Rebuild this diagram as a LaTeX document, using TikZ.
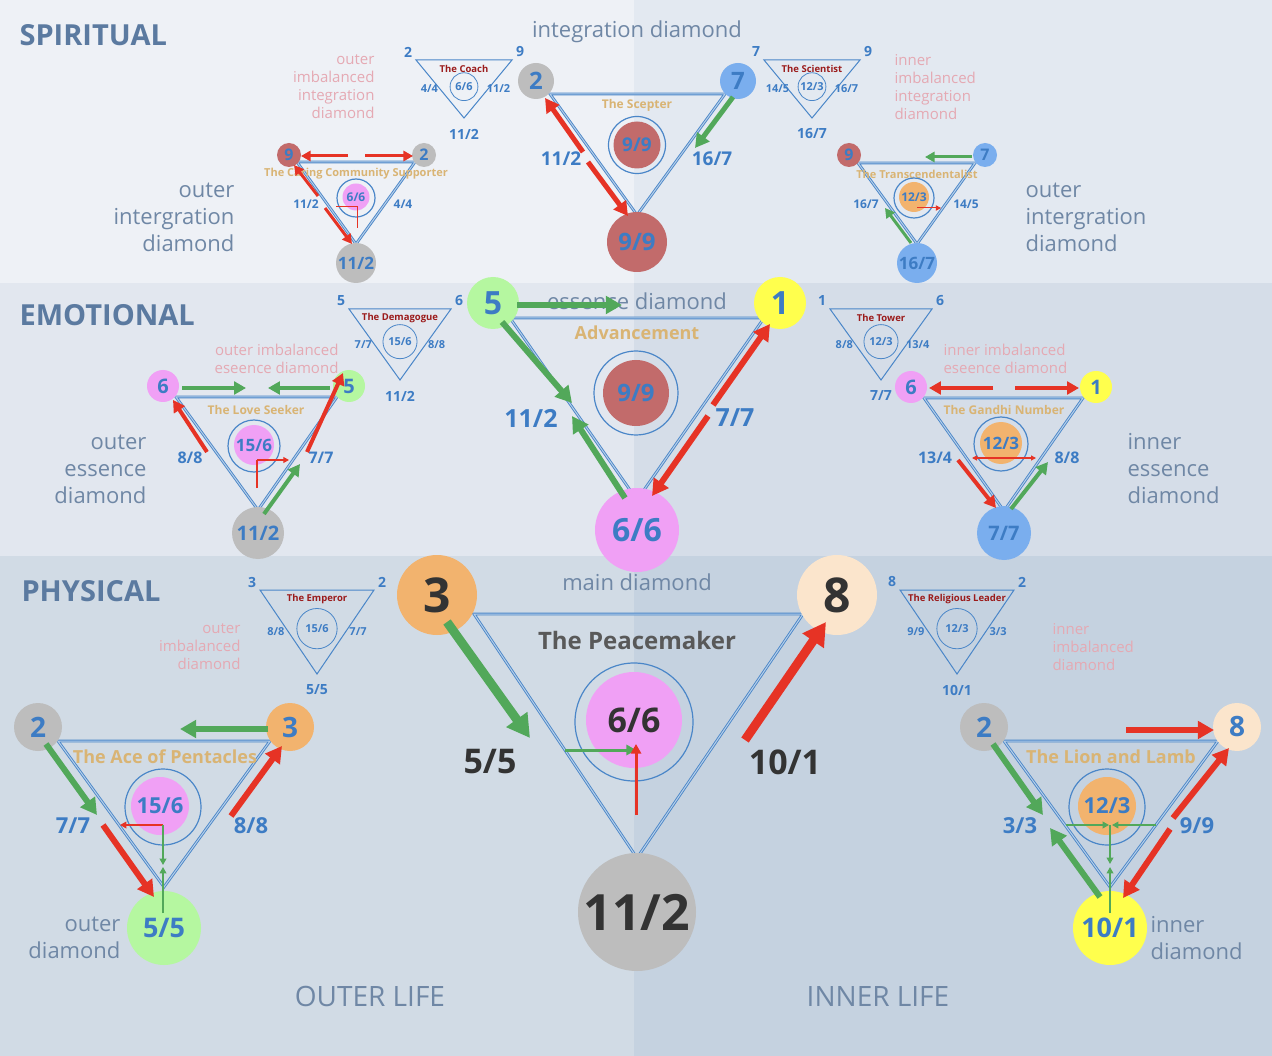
\documentclass[tikz,border=0pt]{standalone}
\usepackage{fontspec}
\setmainfont{Open Sans}
\usetikzlibrary{arrows.meta}
\definecolor{numblue}{HTML}{3D7CC4}
\definecolor{lineblue}{HTML}{4A86C8}
\definecolor{cgray}{HTML}{BDBDBD}
\definecolor{cblue}{HTML}{7AAEEE}
\definecolor{crose}{HTML}{C26B6B}
\definecolor{cpink}{HTML}{F0A0F5}
\definecolor{cgreen}{HTML}{B5F7A0}
\definecolor{cyellow}{HTML}{FFFF4D}
\definecolor{corange}{HTML}{F2B36E}
\definecolor{cpeach}{HTML}{FBE5CC}
\definecolor{arrred}{HTML}{E63325}
\definecolor{arrgreen}{HTML}{52A85A}
\definecolor{tan}{HTML}{D9B474}
\definecolor{darkred}{HTML}{9B1B1B}
\definecolor{pinklbl}{HTML}{E5A9B3}
\definecolor{graytxt}{HTML}{6F87A5}
\definecolor{headtxt}{HTML}{5B7AA0}
\newcommand\fs[2]{\fontsize{#1}{#2}\selectfont}
% small imbalanced triangle: prefix, top centre, corners, sides, bottom
\newcommand\smalltri[9]{%
  \begin{scope}[shift={(#2)}]
    \draw[draw=lineblue, line width=1pt] (-\hw,0) -- (\hw,0) -- (0,\th) -- cycle;
    \node[snum, font=\bfseries\fs{14}{16}] (#1tl) at (-\hw-8,-8) {#3};
    \node[snum, font=\bfseries\fs{14}{16}] (#1tr) at (\hw+8,-8) {#4};
    \node[snum] (#1l) at (-0.72*\hw,0.5*\th) {#5};
    \node[snum] (#1r) at (0.72*\hw,0.5*\th) {#6};
    \node[snum, font=\bfseries\fs{14}{16}] (#1b) at (0,\th+16) {#7};
    \node[font=\bfseries\fs{9.5}{11}, text=darkred] (#1n) at (0,9) {#8};
    \node[circle, draw=lineblue, line width=0.8pt, minimum size=0.48*\th,
      inner sep=0pt, text=numblue, font=\bfseries\fs{11}{13}] (#1c) at (0,0.46*\th) {#9};
  \end{scope}}
\begin{document}
\begin{tikzpicture}[x=1pt, y=-1pt,
  snum/.style={text=numblue, font=\bfseries\fs{11}{13}, inner sep=1pt},
  corner/.style={circle, inner sep=0pt, text=numblue, font=\bfseries},
  side/.style={text=numblue, font=\bfseries},
  tri/.style={draw=lineblue, line width=0.9pt, double=white!60!lineblue, double distance=1pt},
  ring/.style={circle, draw=lineblue, line width=1.2pt, inner sep=0pt},
  dname/.style={text=tan, font=\bfseries},
  lbl/.style={text=graytxt, align=#1, font=\fs{22}{27}},
  pinkl/.style={text=pinklbl, align=#1, font=\fs{15}{18}},
  redarr/.style={draw=arrred, line width=#1, -{Triangle[length=2.2*#1+3pt, width=2.4*#1+3pt]}},
  greenarr/.style={draw=arrgreen, line width=#1, -{Triangle[length=2.2*#1+3pt, width=2.4*#1+3pt]}}]
  % bands
  \fill[fill={rgb,255:red,238;green,241;blue,246}] (0,0) rectangle (634,283);
  \fill[fill={rgb,255:red,227;green,233;blue,241}] (634,0) rectangle (1272,283);
  \fill[fill={rgb,255:red,226;green,231;blue,239}] (0,283) rectangle (634,556);
  \fill[fill={rgb,255:red,213;green,221;blue,232}] (634,283) rectangle (1272,556);
  \fill[fill={rgb,255:red,209;green,219;blue,229}] (0,556) rectangle (634,1056);
  \fill[fill={rgb,255:red,197;green,210;blue,224}] (634,556) rectangle (1272,1056);
  % headings
  \node[anchor=west, text=headtxt, font=\bfseries\fs{29}{30}] (hspi) at (16,35) {SPIRITUAL};
  \node[anchor=west, text=headtxt, font=\bfseries\fs{29}{30}] (hemo) at (16,315) {EMOTIONAL};
  \node[anchor=west, text=headtxt, font=\bfseries\fs{29}{30}] (hphy) at (18,591) {PHYSICAL};
  \node[lbl=center] (tint) at (637,32) {integration diamond};
  \node[lbl=center] (tess) at (637,301) {essence diamond};
  \node[lbl=center] (tmain) at (637,582) {main diamond};
  \node[text=graytxt, font=\fs{28}{30}] (tout) at (370,996) {OUTER LIFE};
  \node[text=graytxt, font=\fs{28}{30}] (tinn) at (878,996) {INNER LIFE};
  \node[lbl=right, anchor=east] (l1) at (238,217) {outer\\intergration\\diamond};
  \node[lbl=left, anchor=west] (l2) at (1022,217) {outer\\intergration\\diamond};
  \node[lbl=right, anchor=east] (l3) at (150,469) {outer\\essence\\diamond};
  \node[lbl=left, anchor=west] (l4) at (1124,469) {inner\\essence\\diamond};
  \node[lbl=right, anchor=east] (l5) at (124,938) {outer\\diamond};
  \node[lbl=left, anchor=west] (l6) at (1147,938) {inner\\diamond};
  \node[pinkl=right, anchor=east] (p1) at (378,87) {outer\\imbalanced\\integration\\diamond};
  \node[pinkl=left, anchor=west] (p2) at (891,87) {inner\\imbalanced\\integration\\diamond};
  \node[pinkl=right, anchor=east] (p3) at (342,359) {outer imbalanced\\eseence diamond};
  \node[pinkl=left, anchor=west] (p4) at (940,359) {inner imbalanced\\eseence diamond};
  \node[pinkl=right, anchor=east] (p5) at (244,647) {outer\\imbalanced\\diamond};
  \node[pinkl=left, anchor=west] (p6) at (1049,647) {inner\\imbalanced\\diamond};
  % imbalanced triangles
  \def\hw{48}\def\th{58}
  \smalltri{coach}{464,60}{2}{9}{4/4}{11/2}{11/2}{The Coach}{6/6}
  \smalltri{sci}{812,60}{7}{9}{14/5}{16/7}{16/7}{The Scientist}{12/3}
  \def\hw{51}\def\th{71}
  \smalltri{dem}{400,309}{5}{6}{7/7}{8/8}{11/2}{The Demagogue}{15/6}
  \smalltri{tow}{881,309}{1}{6}{8/8}{13/4}{7/7}{The Tower}{12/3}
  \def\hw{57}\def\th{84}
  \smalltri{emp}{317,590}{3}{2}{8/8}{7/7}{5/5}{The Emperor}{15/6}
  \smalltri{rel}{957,590}{8}{2}{9/9}{3/3}{10/1}{The Religious Leader}{12/3}

  % spiritual: The Scepter
  \draw[tri] (550,94) -- (725,94) -- (637,215) -- cycle;
  \node[corner, fill=cgray, minimum size=36, font=\bfseries\fs{24}{24}] (scA) at (536,81) {2};
  \node[corner, fill=cblue, minimum size=36, font=\bfseries\fs{24}{24}] (scB) at (738,81) {7};
  \node[corner, fill=crose, minimum size=60, font=\bfseries\fs{24}{24}] (scC) at (637,242) {9/9};
  \node[dname, font=\bfseries\fs{12}{14}] (scN) at (637,105) {The Scepter};
  \node[ring, minimum size=57] (scR) at (637,145) {};
  \node[corner, fill=crose, minimum size=47, font=\bfseries\fs{19}{19}] (scM) at (637,145) {9/9};
  \node[side, font=\bfseries\fs{19}{19}] (scL) at (561,159) {11/2};
  \node[side, font=\bfseries\fs{19}{19}] (scS) at (712,159) {16/7};
  \draw[redarr=5pt] (583,152) -- (545,98);
  \draw[redarr=5pt] (588,162) -- (628,216);
  \draw[greenarr=5pt] (733,97) -- (695,148);

  % spiritual left: The Caring Community Supporter
  \draw[tri] (297,162) -- (415,162) -- (356,244) -- cycle;
  \node[corner, fill=crose, minimum size=24, font=\bfseries\fs{16}{16}] (ccA) at (289,155) {9};
  \node[corner, fill=cgray, minimum size=24, font=\bfseries\fs{16}{16}] (ccB) at (424,155) {2};
  \node[corner, fill=cgray, minimum size=40, font=\bfseries\fs{17}{17}] (ccC) at (356,263) {11/2};
  \node[dname, font=\bfseries\fs{11}{13}] (ccN) at (356,174) {The Caring Community Supporter};
  \node[ring, minimum size=38] (ccR) at (356,198) {};
  \node[corner, fill=cpink, minimum size=27, font=\bfseries\fs{12}{12}] (ccM) at (356,197) {6/6};
  \node[side, font=\bfseries\fs{12}{14}] (ccL) at (306,204) {11/2};
  \node[side, font=\bfseries\fs{12}{14}] (ccS) at (403,204) {4/4};
  \draw[redarr=3pt] (348,156) -- (301,156);
  \draw[redarr=3pt] (365,156) -- (413,156);
  \draw[redarr=3pt] (318,196) -- (294,165);
  \draw[redarr=3pt] (325,208) -- (352,244);
  \draw[arrred, line width=1pt] (336,207) -- (357,207) -- (357,228);

  % spiritual right: The Transcendentalist
  \draw[tri] (858,163) -- (975,163) -- (917,244) -- cycle;
  \node[corner, fill=crose, minimum size=24, font=\bfseries\fs{16}{16}] (trA) at (849,155) {9};
  \node[corner, fill=cblue, minimum size=24, font=\bfseries\fs{16}{16}] (trB) at (985,155) {7};
  \node[corner, fill=cblue, minimum size=40, font=\bfseries\fs{17}{17}] (trC) at (917,263) {16/7};
  \node[dname, font=\bfseries\fs{11}{13}] (trN) at (917,174) {The Transcendentalist};
  \node[ring, minimum size=40] (trR) at (914,198) {};
  \node[corner, fill=corange, minimum size=30, font=\bfseries\fs{12}{12}] (trM) at (914,197) {12/3};
  \node[side, font=\bfseries\fs{12}{14}] (trL) at (866,204) {16/7};
  \node[side, font=\bfseries\fs{12}{14}] (trS) at (966,204) {14/5};
  \draw[greenarr=3pt] (972,157) -- (925,157);
  \draw[greenarr=3pt] (911,243) -- (885,208);
  \draw[redarr=1pt] (917,208) -- (941,208);

  % emotional: Advancement
  \draw[tri] (510,318) -- (764,318) -- (637,500) -- cycle;
  \node[corner, fill=cgreen, minimum size=52, font=\bfseries\fs{32}{32}] (adA) at (493,303) {5};
  \node[corner, fill=cyellow, minimum size=52, font=\bfseries\fs{32}{32}] (adB) at (780,303) {1};
  \node[corner, fill=cpink, minimum size=84, font=\bfseries\fs{32}{32}] (adC) at (637,530) {6/6};
  \node[dname, font=\bfseries\fs{18}{20}] (adN) at (637,333) {Advancement};
  \node[ring, minimum size=84] (adR) at (636,393) {};
  \node[corner, fill=crose, minimum size=66, font=\bfseries\fs{24}{24}] (adM) at (636,393) {9/9};
  \node[side, font=\bfseries\fs{25}{25}] (adL) at (531,418) {11/2};
  \node[side, font=\bfseries\fs{25}{25}] (adS) at (735,418) {7/7};
  \draw[greenarr=6pt] (517,305) -- (622,305);
  \draw[greenarr=6pt] (502,322) -- (572,403);
  \draw[greenarr=6pt] (625,498) -- (572,416);
  \draw[redarr=6pt] (713,405) -- (770,324);
  \draw[redarr=6pt] (708,416) -- (652,496);

  % emotional left: The Love Seeker
  \draw[tri] (176,397) -- (337,397) -- (258,510) -- cycle;
  \node[corner, fill=cpink, minimum size=32, font=\bfseries\fs{20}{20}] (lsA) at (163,386) {6};
  \node[corner, fill=cgreen, minimum size=32, font=\bfseries\fs{20}{20}] (lsB) at (349,386) {5};
  \node[corner, fill=cgray, minimum size=52, font=\bfseries\fs{20}{20}] (lsC) at (258,533) {11/2};
  \node[dname, font=\bfseries\fs{12}{14}] (lsN) at (256,410) {The Love Seeker};
  \node[ring, minimum size=52] (lsR) at (254,446) {};
  \node[corner, fill=cpink, minimum size=40, font=\bfseries\fs{17}{17}] (lsM) at (254,445) {15/6};
  \node[side, font=\bfseries\fs{16}{16}] (lsL) at (190,458) {8/8};
  \node[side, font=\bfseries\fs{16}{16}] (lsS) at (321,458) {7/7};
  \draw[greenarr=4pt] (182,388) -- (246,388);
  \draw[greenarr=4pt] (330,388) -- (268,388);
  \draw[redarr=4pt] (207,452) -- (173,400);
  \draw[redarr=4pt] (307,452) -- (343,373);
  \draw[greenarr=4pt] (264,514) -- (300,464);
  \draw[arrred, line width=1.2pt] (257,488) -- (257,460);
  \draw[redarr=1.2pt] (257,460) -- (289,460);

  % emotional right: The Gandhi Number
  \draw[tri] (924,398) -- (1083,398) -- (1004,511) -- cycle;
  \node[corner, fill=cpink, minimum size=32, font=\bfseries\fs{20}{20}] (gnA) at (911,387) {6};
  \node[corner, fill=cyellow, minimum size=32, font=\bfseries\fs{20}{20}] (gnB) at (1096,387) {1};
  \node[corner, fill=cblue, minimum size=54, font=\bfseries\fs{20}{20}] (gnC) at (1004,533) {7/7};
  \node[dname, font=\bfseries\fs{12}{14}] (gnN) at (1004,410) {The Gandhi Number};
  \node[ring, minimum size=54] (gnR) at (1001,444) {};
  \node[corner, fill=corange, minimum size=42, font=\bfseries\fs{17}{17}] (gnM) at (1001,443) {12/3};
  \node[side, font=\bfseries\fs{16}{16}] (gnL) at (935,458) {13/4};
  \node[side, font=\bfseries\fs{16}{16}] (gnS) at (1067,458) {8/8};
  \draw[redarr=4pt] (993,388) -- (929,388);
  \draw[redarr=4pt] (1015,388) -- (1079,388);
  \draw[redarr=4pt] (958,460) -- (996,508);
  \draw[greenarr=4pt] (1011,509) -- (1048,462);
  \draw[arrred, line width=1.2pt, {Triangle[length=5pt,width=5pt]}-{Triangle[length=5pt,width=5pt]}] (972,458) -- (1036,458);

  % physical: The Peacemaker
  \draw[tri] (474,614) -- (803,614) -- (637,858) -- cycle;
  \node[corner, fill=corange, minimum size=80, text=black!80, font=\bfseries\fs{48}{48}] (pmA) at (437,595) {3};
  \node[corner, fill=cpeach, minimum size=80, text=black!80, font=\bfseries\fs{48}{48}] (pmB) at (837,595) {8};
  \node[corner, fill=cgray, minimum size=118, text=black!80, font=\bfseries\fs{50}{50}] (pmC) at (637,912) {11/2};
  \node[text=black!65, font=\bfseries\fs{24}{26}] (pmN) at (637,640) {The Peacemaker};
  \node[ring, minimum size=118] (pmR) at (634,722) {};
  \node[corner, fill=cpink, minimum size=96, text=black!80, font=\bfseries\fs{34}{34}] (pmM) at (634,720) {6/6};
  \node[text=black!80, font=\bfseries\fs{34}{34}] (pmL) at (490,762) {5/5};
  \node[text=black!80, font=\bfseries\fs{34}{34}] (pmS) at (785,762) {10/1};
  \draw[greenarr=9pt] (447,622) -- (530,738);
  \draw[redarr=9pt] (745,740) -- (826,622);
  \draw[greenarr=3pt] (565,750) -- (636,750);
  \draw[redarr=3pt] (636,815) -- (636,744);

  % physical left: The Ace of Pentacles
  \draw[tri] (58,741) -- (270,741) -- (164,887) -- cycle;
  \node[corner, fill=cgray, minimum size=48, font=\bfseries\fs{28}{28}] (apA) at (38,727) {2};
  \node[corner, fill=corange, minimum size=48, font=\bfseries\fs{28}{28}] (apB) at (290,727) {3};
  \node[corner, fill=cgreen, minimum size=74, font=\bfseries\fs{27}{27}] (apC) at (164,928) {5/5};
  \node[dname, font=\bfseries\fs{18}{20}] (apN) at (165,757) {The Ace of Pentacles};
  \node[ring, minimum size=76] (apR) at (163,807) {};
  \node[corner, fill=cpink, minimum size=58, font=\bfseries\fs{22}{22}] (apM) at (160,806) {15/6};
  \node[side, font=\bfseries\fs{22}{22}] (apL) at (73,826) {7/7};
  \node[side, font=\bfseries\fs{22}{22}] (apS) at (251,826) {8/8};
  \draw[greenarr=6pt] (268,729) -- (180,729);
  \draw[greenarr=6pt] (46,744) -- (97,815);
  \draw[redarr=6pt] (103,825) -- (154,897);
  \draw[redarr=6pt] (231,816) -- (282,746);
  \draw[redarr=1.5pt] (163,825) -- (120,825);
  \draw[greenarr=1.5pt] (163,825) -- (163,865);
  \draw[greenarr=1.5pt] (163,913) -- (163,867);

  % physical right: The Lion and Lamb
  \draw[tri] (1004,741) -- (1218,741) -- (1110,887) -- cycle;
  \node[corner, fill=cgray, minimum size=48, font=\bfseries\fs{28}{28}] (llA) at (984,727) {2};
  \node[corner, fill=cpeach, minimum size=48, font=\bfseries\fs{28}{28}] (llB) at (1237,727) {8};
  \node[corner, fill=cyellow, minimum size=74, font=\bfseries\fs{27}{27}] (llC) at (1110,928) {10/1};
  \node[dname, font=\bfseries\fs{18}{20}] (llN) at (1111,757) {The Lion and Lamb};
  \node[ring, minimum size=76] (llR) at (1107,807) {};
  \node[corner, fill=corange, minimum size=58, font=\bfseries\fs{22}{22}] (llM) at (1107,806) {12/3};
  \node[side, font=\bfseries\fs{22}{22}] (llL) at (1020,826) {3/3};
  \node[side, font=\bfseries\fs{22}{22}] (llS) at (1197,826) {9/9};
  \draw[redarr=6pt] (1126,730) -- (1214,730);
  \draw[greenarr=6pt] (993,744) -- (1043,815);
  \draw[greenarr=6pt] (1100,897) -- (1050,828);
  \draw[redarr=6pt] (1173,818) -- (1229,748);
  \draw[redarr=6pt] (1170,829) -- (1123,898);
  \draw[greenarr=1.5pt] (1066,825) -- (1109,825);
  \draw[greenarr=1.5pt] (1156,825) -- (1112,825);
  \draw[greenarr=1.5pt] (1110,825) -- (1110,864);
  \draw[greenarr=1.5pt] (1110,913) -- (1110,867);
\end{tikzpicture}
\end{document}
